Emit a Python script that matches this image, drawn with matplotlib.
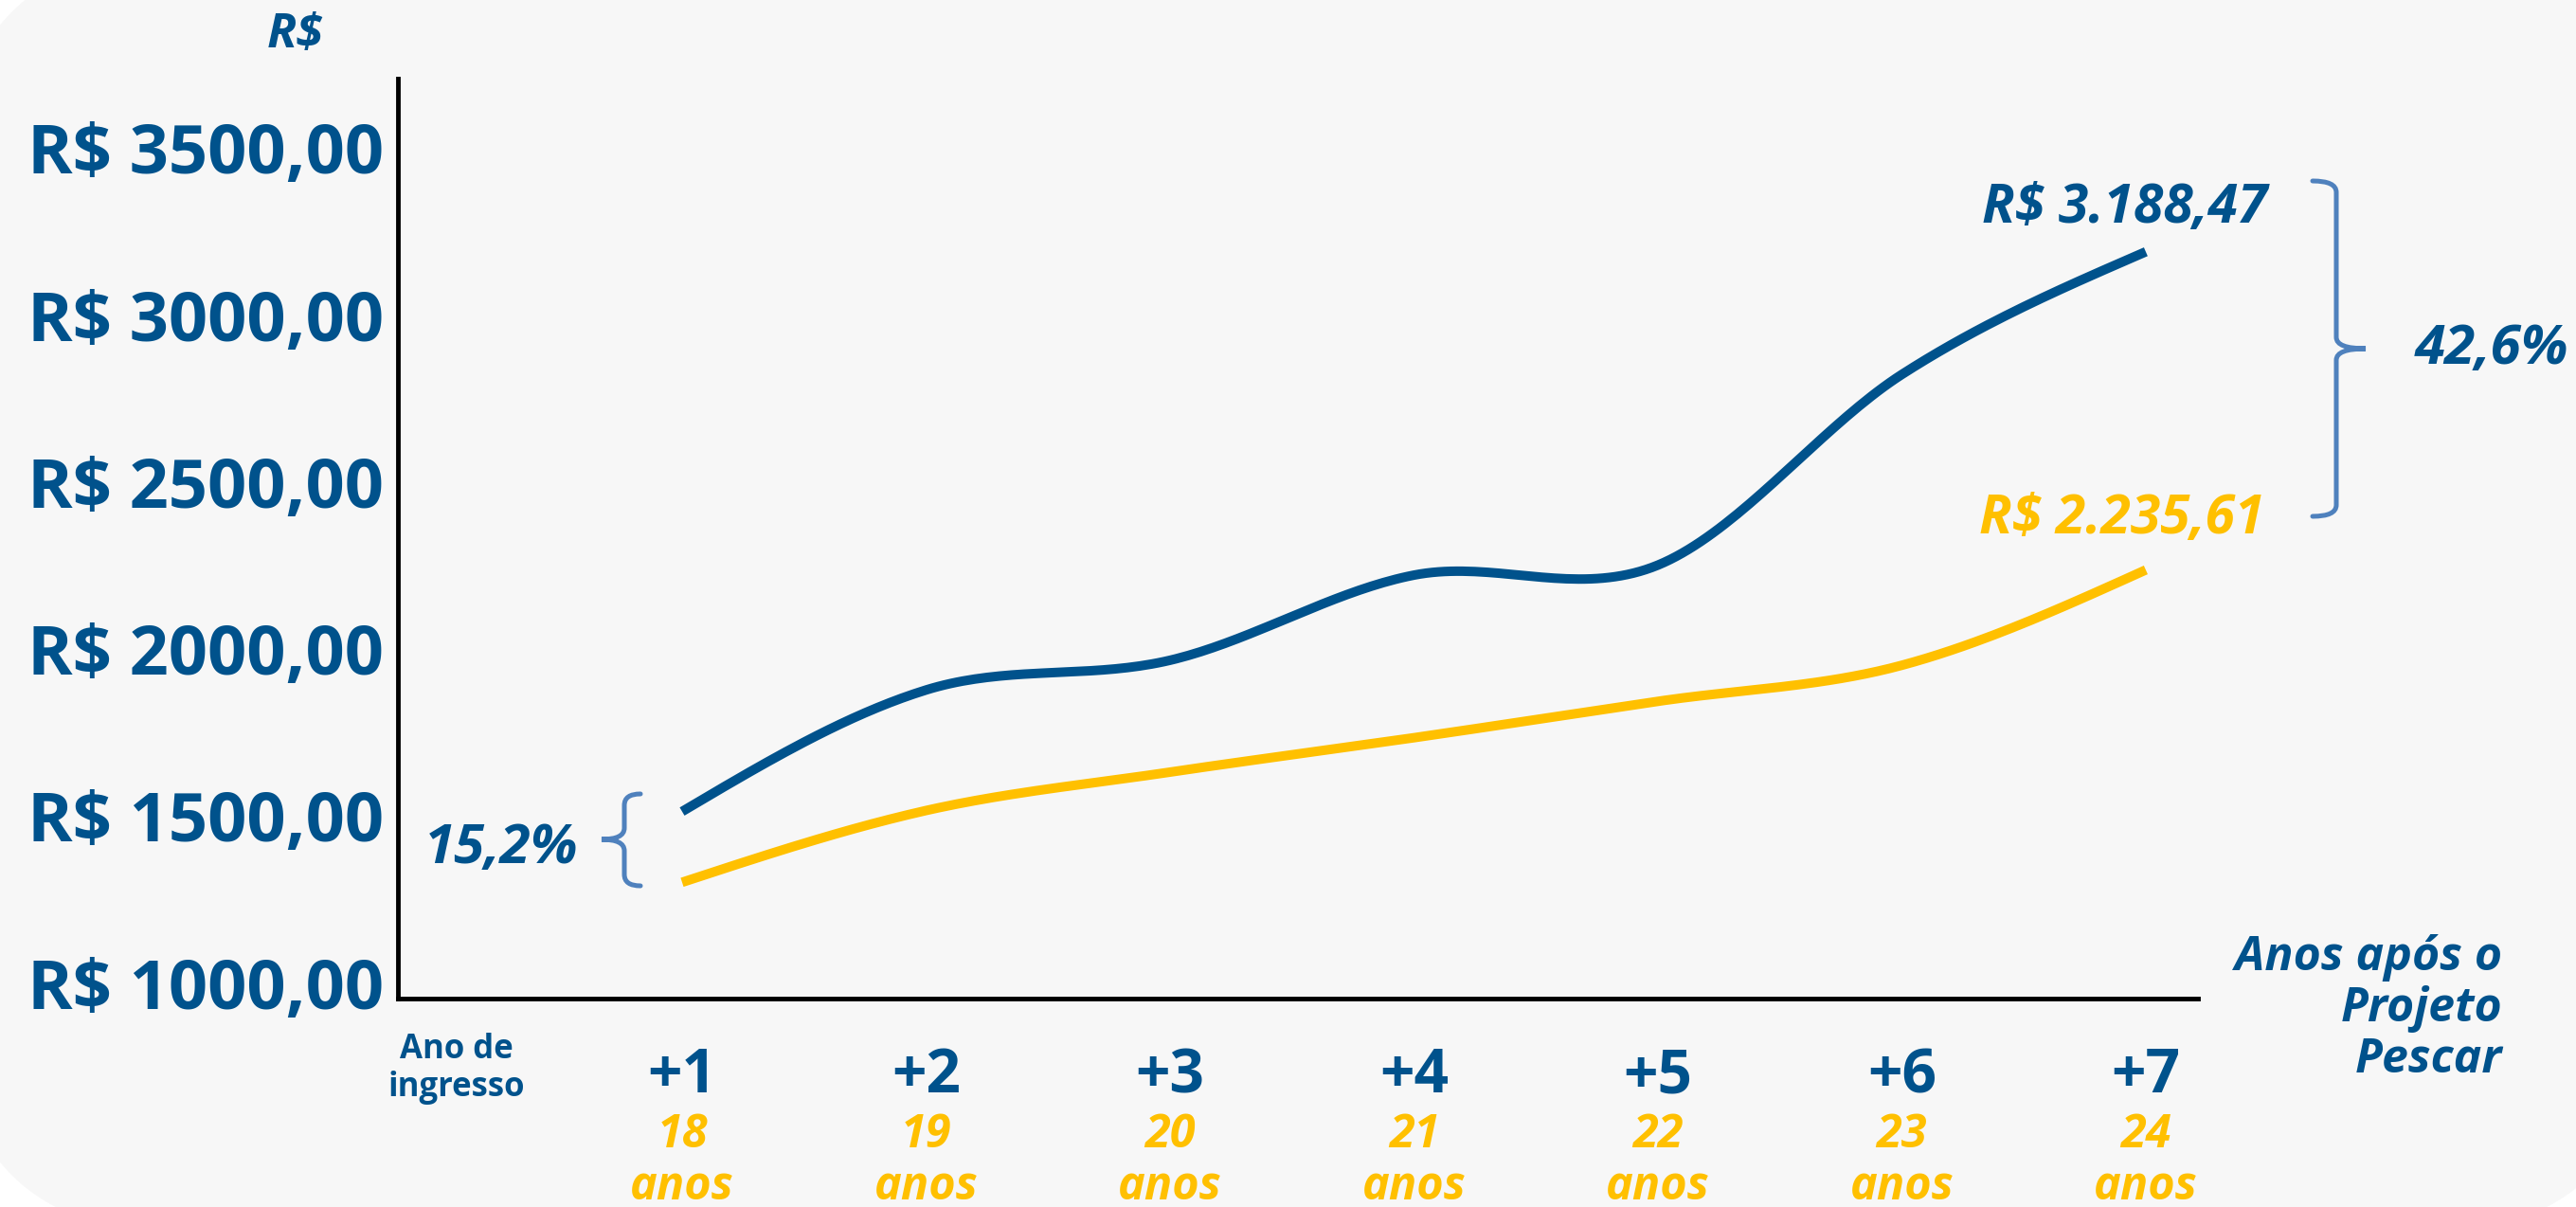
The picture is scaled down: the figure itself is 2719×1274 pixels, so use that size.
import numpy as np
import matplotlib
matplotlib.use("Agg")
from matplotlib import pyplot as plt
from matplotlib.patches import FancyBboxPatch, PathPatch
from matplotlib.path import Path
from matplotlib.transforms import IdentityTransform

# dados
anos = [1, 2, 3, 4, 5, 6, 7]
rotulos_anos = ["+1", "+2", "+3", "+4", "+5", "+6", "+7"]
idades = ["18\nanos", "19\nanos", "20\nanos", "21\nanos", "22\nanos", "23\nanos", "24\nanos"]
salario_pescar = [1512, 1876, 1965, 2220, 2250, 2821, 3188.47]
salario_geral = [1300, 1515, 1630, 1733, 1842, 1950, 2235.61]
yticks = [1000, 1500, 2000, 2500, 3000, 3500]
ytick_labels = ["R$ 1000,00", "R$ 1500,00", "R$ 2000,00", "R$ 2500,00", "R$ 3000,00", "R$ 3500,00"]

AZUL = "#00528C"
AMARELO = "#FFC000"
CHAVE = "#4F81BD"
W, H = 2719, 1274
FONTE = "Open Sans"
ESTREITA = ["Liberation Sans Narrow", "Open Sans"]


def suaviza(xs, ys, n=40):
    # linha suave (hermite, tangentes tipo catmull-rom) como a do excel
    x = np.asarray(xs, float)
    y = np.asarray(ys, float)
    d = np.diff(y) / np.diff(x)
    m = np.empty_like(y)
    m[1:-1] = (y[2:] - y[:-2]) / (x[2:] - x[:-2])
    m[0] = (3 * d[0] - m[1]) / 2
    m[-1] = (3 * d[-1] - m[-2]) / 2
    t = np.linspace(0, 1, n, endpoint=False)
    h00 = 2 * t ** 3 - 3 * t ** 2 + 1
    h10 = t ** 3 - 2 * t ** 2 + t
    h01 = -2 * t ** 3 + 3 * t ** 2
    h11 = t ** 3 - t ** 2
    px, py = [], []
    for i in range(len(x) - 1):
        h = x[i + 1] - x[i]
        px.append(x[i] + h * t)
        py.append(h00 * y[i] + h10 * h * m[i] + h01 * y[i + 1] + h11 * h * m[i + 1])
    px.append([x[-1]])
    py.append([y[-1]])
    return np.concatenate(px), np.concatenate(py)


def chave(fig, x, y0, y1, ym, dponta, dbico, r=12):
    # desenha { ou } em pixels (y medido de cima)
    yy = lambda v: H - v
    verts = [(x + dponta, yy(y0)), (x, yy(y0)), (x, yy(y0 + r)),
             (x, yy(ym - r)), (x, yy(ym)), (x + dbico, yy(ym)),
             (x, yy(ym)), (x, yy(ym + r)),
             (x, yy(y1 - r)), (x, yy(y1)), (x + dponta, yy(y1))]
    codes = [Path.MOVETO, Path.CURVE3, Path.CURVE3,
             Path.LINETO, Path.CURVE3, Path.CURVE3,
             Path.CURVE3, Path.CURVE3,
             Path.LINETO, Path.CURVE3, Path.CURVE3]
    fig.add_artist(PathPatch(Path(verts, codes), fill=False, edgecolor=CHAVE, lw=3.6,
                             capstyle="round", transform=IdentityTransform()))


fig = plt.figure(figsize=(W / 100, H / 100), dpi=100)
fig.add_artist(FancyBboxPatch((-50, -29), W + 128, H + 79, boxstyle="round,pad=0,rounding_size=250",
                              facecolor="#F7F7F7", edgecolor="none", transform=IdentityTransform(), zorder=-10))

ax = fig.add_axes([420 / W, 1 - 1054 / H, 1900 / W, 971 / H])
ax.set_facecolor("none")

xs, ys = suaviza(anos, salario_pescar)
ax.plot(xs, ys, color=AZUL, lw=7.2, solid_capstyle="butt", zorder=3)
xs, ys = suaviza(anos, salario_geral)
ax.plot(xs, ys, color=AMARELO, lw=7.2, solid_capstyle="butt", zorder=3)

ax.set_xlim(-0.165, 7.214)
ax.set_ylim(951.8, 3707)

for s in ["top", "right"]:
    ax.spines[s].set_visible(False)
for s in ["left", "bottom"]:
    ax.spines[s].set_linewidth(3.5)
    ax.spines[s].set_color("black")

ax.set_yticks(yticks, labels=ytick_labels)
ax.tick_params(axis="y", length=0, pad=11, labelcolor=AZUL)
for lb in ax.get_yticklabels():
    lb.set_fontfamily(FONTE)
    lb.set_fontweight("bold")
    lb.set_fontsize(52)

ax.set_xticks(anos, labels=rotulos_anos)
ax.tick_params(axis="x", length=0, pad=36, labelcolor=AZUL)
for lb in ax.get_xticklabels():
    lb.set_fontfamily(ESTREITA)
    lb.set_fontweight("bold")
    lb.set_fontsize(46)

for x, idade in zip(anos, idades):
    ax.text(x, -0.177, idade, transform=ax.get_xaxis_transform(), ha="center", va="center",
            color=AMARELO, fontsize=35, fontweight="bold", fontstyle="italic",
            family=ESTREITA, linespacing=1.15)

# textos soltos
fig.text(311 / W, 1 - 37 / H, "R$", ha="center", va="center", color=AZUL, fontsize=37,
         fontweight="bold", fontstyle="italic", family=ESTREITA)
fig.text(482 / W, 1 - 1128 / H, "Ano de\ningresso", ha="center", va="center", color=AZUL,
         fontsize=25, fontweight="bold", family=ESTREITA, linespacing=1.15)
fig.text(2641 / W, 1 - 1065 / H, "Anos após o\nProjeto\nPescar", ha="right", va="center", color=AZUL,
         fontsize=36, fontweight="bold", fontstyle="italic", family=FONTE, linespacing=1.1)

ax.annotate("R$ 3.188,47", xy=(anos[-1], salario_pescar[-1]), xytext=(128, 46),
            textcoords="offset pixels", ha="right", va="center", color=AZUL, fontsize=41,
            fontweight="bold", fontstyle="italic", family=ESTREITA)
ax.annotate("R$ 2.235,61", xy=(anos[-1], salario_geral[-1]), xytext=(125, 54),
            textcoords="offset pixels", ha="right", va="center", color=AMARELO, fontsize=41,
            fontweight="bold", fontstyle="italic", family=ESTREITA)

chave(fig, 2466, 191, 545, 368, -25, 31)
chave(fig, 659, 838, 935, 886, 17, -24)
fig.text(2549 / W, 1 - 369 / H, "42,6%", ha="left", va="center", color=AZUL, fontsize=42,
         fontweight="bold", fontstyle="italic", family=ESTREITA)
fig.text(610 / W, 1 - 896 / H, "15,2%", ha="right", va="center", color=AZUL, fontsize=42,
         fontweight="bold", fontstyle="italic", family=ESTREITA)

fig.savefig("out.png", dpi=100)
